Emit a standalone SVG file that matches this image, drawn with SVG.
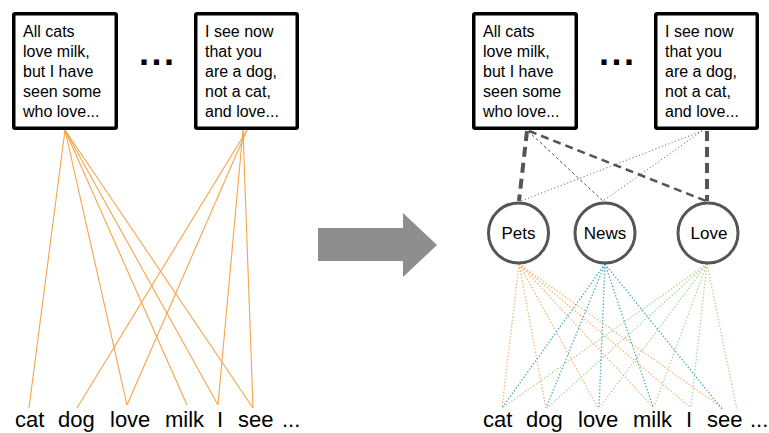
<svg xmlns="http://www.w3.org/2000/svg" width="769" height="433" viewBox="0 0 769 433">
<style>
.box{fill:#fff;stroke:#000;stroke-width:3.5}
.bt{font-family:"Liberation Sans",Arial,sans-serif;font-size:16px;fill:#000}
.dots{font-family:"Liberation Sans",Arial,sans-serif;font-size:36px;font-weight:bold;letter-spacing:2.5px;fill:#000}
.word{font-family:"Liberation Sans",Arial,sans-serif;font-size:22px;fill:#000}
.topic{fill:#fff;stroke:#555;stroke-width:3}
.tl{font-family:"Liberation Sans",Arial,sans-serif;font-size:17px;fill:#000;text-anchor:middle}
.sol{stroke:#f7a449;stroke-width:1.1;fill:none}
.o{stroke:#f8ae68;stroke-width:1.3;stroke-dasharray:1.3 2;fill:none}
.b{stroke:#3aa5b8;stroke-width:1.3;stroke-dasharray:1.3 2;fill:none}
.g{stroke:#a9d18e;stroke-width:1.3;stroke-dasharray:1.3 2;fill:none}
.dk{stroke:#555;fill:none}
</style>
<g id="connectors">
<g id="left-lines">
<line class="sol" x1="65" y1="130" x2="29" y2="408"/>
<line class="sol" x1="65" y1="130" x2="127" y2="405"/>
<line class="sol" x1="65" y1="130" x2="187" y2="405"/>
<line class="sol" x1="65" y1="130" x2="218" y2="405"/>
<line class="sol" x1="65" y1="130" x2="253" y2="408"/>
<line class="sol" x1="247" y1="130" x2="77" y2="408"/>
<line class="sol" x1="247" y1="130" x2="127" y2="405"/>
<line class="sol" x1="243" y1="130" x2="218" y2="405"/>
<line class="sol" x1="243" y1="130" x2="253" y2="408"/>
</g>
<g id="doc-topic-lines">
<line class="dk" x1="527" y1="131" x2="519" y2="201" stroke-width="4" stroke-dasharray="10 6"/>
<line class="dk" x1="528" y1="131" x2="603" y2="201" stroke-width="1" stroke-dasharray="3 2.5"/>
<line class="dk" x1="529" y1="131" x2="706" y2="201" stroke-width="2.5" stroke-dasharray="8 5"/>
<line class="dk" x1="707" y1="131" x2="707" y2="201" stroke-width="4" stroke-dasharray="10 6"/>
<line class="dk" x1="702" y1="131" x2="521" y2="201" stroke-width="1" stroke-dasharray="1 2.5"/>
<line class="dk" x1="702" y1="131" x2="603" y2="201" stroke-width="1" stroke-dasharray="1 2.5"/>
</g>
<g id="topic-word-lines">
<line class="o" x1="519" y1="264" x2="502" y2="408"/>
<line class="o" x1="519" y1="264" x2="546" y2="408"/>
<line class="o" x1="519" y1="264" x2="598" y2="408"/>
<line class="o" x1="519" y1="264" x2="653" y2="407"/>
<line class="o" x1="519" y1="264" x2="690" y2="407"/>
<line class="o" x1="519" y1="264" x2="724" y2="409"/>
<line class="b" x1="605" y1="264" x2="502" y2="408"/>
<line class="b" x1="605" y1="264" x2="546" y2="408"/>
<line class="b" x1="605" y1="264" x2="599" y2="408"/>
<line class="b" x1="605" y1="264" x2="653" y2="407"/>
<line class="b" x1="605" y1="264" x2="722" y2="409"/>
<line class="g" x1="707" y1="264" x2="502" y2="408"/>
<line class="g" x1="707" y1="264" x2="547" y2="408"/>
<line class="g" x1="707" y1="264" x2="600" y2="407"/>
<line class="g" x1="707" y1="264" x2="654" y2="407"/>
<line class="g" x1="707" y1="264" x2="691" y2="407"/>
<line class="g" x1="707" y1="264" x2="737" y2="410"/>
</g>
</g>
<g id="doc1-left">
<rect class="box" x="13.75" y="13.75" width="102.5" height="114.5" rx="1.5"/>
<text class="bt" x="23" y="37">All cats</text>
<text class="bt" x="23" y="57">love milk,</text>
<text class="bt" x="23" y="77">but I have</text>
<text class="bt" x="23" y="97">seen some</text>
<text class="bt" x="23" y="117">who love...</text>
</g>
<text id="ellipsis-left" class="dots" x="139" y="65">...</text>
<g id="doc2-left">
<rect class="box" x="195.75" y="13.75" width="101.5" height="114.5" rx="1.5"/>
<text class="bt" x="205" y="37">I see now</text>
<text class="bt" x="205" y="57">that you</text>
<text class="bt" x="205" y="77">are a dog,</text>
<text class="bt" x="205" y="97">not a cat,</text>
<text class="bt" x="205" y="117">and love...</text>
</g>
<g id="doc1-right">
<rect class="box" x="473.75" y="13.75" width="102.5" height="114.5" rx="1.5"/>
<text class="bt" x="483" y="37">All cats</text>
<text class="bt" x="483" y="57">love milk,</text>
<text class="bt" x="483" y="77">but I have</text>
<text class="bt" x="483" y="97">seen some</text>
<text class="bt" x="483" y="117">who love...</text>
</g>
<text id="ellipsis-right" class="dots" x="599" y="65">...</text>
<g id="doc2-right">
<rect class="box" x="655.75" y="13.75" width="101.5" height="114.5" rx="1.5"/>
<text class="bt" x="665" y="37">I see now</text>
<text class="bt" x="665" y="57">that you</text>
<text class="bt" x="665" y="77">are a dog,</text>
<text class="bt" x="665" y="97">not a cat,</text>
<text class="bt" x="665" y="117">and love...</text>
</g>
<g id="arrow">
<polygon points="318,228 403,228 403,213 437,245 403,277 403,261 318,261" fill="#8e8e8e"/>
</g>
<g id="topic-pets">
<circle class="topic" cx="518.5" cy="233" r="30"/>
<text class="tl" x="518.5" y="239">Pets</text>
</g>
<g id="topic-news">
<circle class="topic" cx="605" cy="233" r="30"/>
<text class="tl" x="605" y="239">News</text>
</g>
<g id="topic-love">
<circle class="topic" cx="708" cy="233" r="30"/>
<text class="tl" x="709" y="239">Love</text>
</g>
<g id="words-left">
<text class="word" x="15" y="427">cat</text>
<text class="word" x="58" y="427">dog</text>
<text class="word" x="110" y="427">love</text>
<text class="word" x="165" y="427">milk</text>
<text class="word" x="217" y="427">I</text>
<text class="word" x="238" y="427">see</text>
<text class="word" x="282" y="427">...</text>
</g>
<g id="words-right">
<text class="word" x="483" y="427">cat</text>
<text class="word" x="526" y="427">dog</text>
<text class="word" x="578" y="427">love</text>
<text class="word" x="633" y="427">milk</text>
<text class="word" x="686" y="427">I</text>
<text class="word" x="707" y="427">see</text>
<text class="word" x="750" y="427">...</text>
</g>
</svg>
